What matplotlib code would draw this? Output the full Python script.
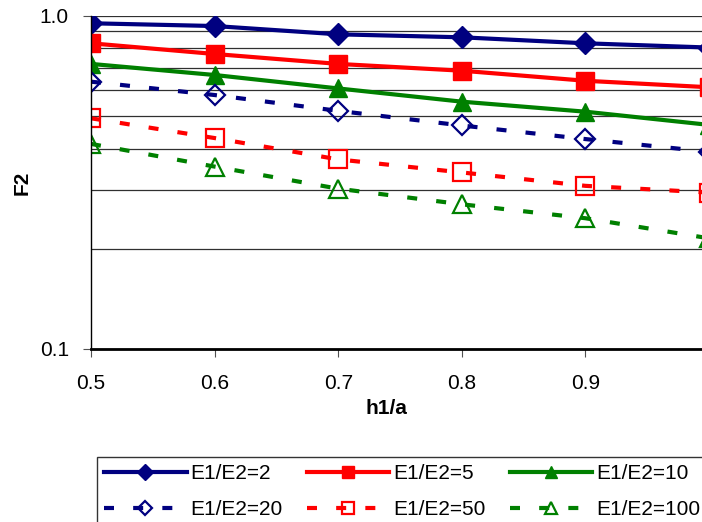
import matplotlib
matplotlib.use("Agg")
import matplotlib.pyplot as plt
import matplotlib.ticker as ticker

plt.rcParams['font.family'] = ['Liberation Sans', 'DejaVu Sans']

h1a = [0.5, 0.6, 0.7, 0.8, 0.9, 1.0]
f2_e2 = [0.951, 0.933, 0.881, 0.863, 0.828, 0.804]
f2_e5 = [0.828, 0.769, 0.718, 0.685, 0.639, 0.611]
f2_e10 = [0.718, 0.665, 0.606, 0.553, 0.516, 0.471]
f2_e20 = [0.635, 0.579, 0.519, 0.469, 0.427, 0.391]
f2_e50 = [0.493, 0.430, 0.371, 0.339, 0.309, 0.295]
f2_e100 = [0.413, 0.353, 0.303, 0.272, 0.247, 0.215]

x_ticks = [0.5, 0.6, 0.7, 0.8, 0.9]
x_ticklabels = ['0.5', '0.6', '0.7', '0.8', '0.9']
y_ticks = [0.1, 1.0]
y_ticklabels = ['0.1', '1.0']
y_grid = [0.2, 0.3, 0.4, 0.5, 0.6, 0.7, 0.8, 0.9]

navy = '#000080'
red = '#ff0000'
green = '#008000'

fig = plt.figure(figsize=(7.02, 5.22), dpi=100)
ax = fig.add_axes([91 / 702, 1 - 349 / 522, 618 / 702, 333 / 522])

# solid series
l2, = ax.plot(h1a, f2_e2, color=navy, lw=3, marker='D', ms=11, label='E1/E2=2')
l5, = ax.plot(h1a, f2_e5, color=red, lw=3, marker='s', ms=13, label='E1/E2=5')
l10, = ax.plot(h1a, f2_e10, color=green, lw=3, marker='^', ms=13, label='E1/E2=10')

# dashed series, open markers
dash = (2.4, 4.6)
l20, = ax.plot(h1a, f2_e20, color=navy, lw=3, dashes=dash, marker='D', ms=10,
               mfc='none', mew=1.6, label='E1/E2=20')
l50, = ax.plot(h1a, f2_e50, color=red, lw=3, dashes=dash, marker='s', ms=13,
               mfc='none', mew=1.6, label='E1/E2=50')
l100, = ax.plot(h1a, f2_e100, color=green, lw=3, dashes=dash, marker='^', ms=13,
                mfc='none', mew=1.6, label='E1/E2=100')

ax.set_yscale('log')
ax.set_ylim(0.1, 1.0)
ax.set_xlim(0.5, 1.0)

ax.yaxis.set_major_locator(ticker.FixedLocator(y_ticks))
ax.yaxis.set_major_formatter(ticker.FixedFormatter(y_ticklabels))
ax.yaxis.set_minor_locator(ticker.FixedLocator(y_grid))
ax.yaxis.set_minor_formatter(ticker.NullFormatter())
ax.xaxis.set_major_locator(ticker.FixedLocator(x_ticks))
ax.xaxis.set_major_formatter(ticker.FixedFormatter(x_ticklabels))

ax.grid(True, which='both', axis='y', color='#303030', lw=0.9)
ax.set_axisbelow(True)
ax.tick_params(axis='y', which='minor', length=0)
ax.tick_params(axis='both', which='major', labelsize=15, length=6, color='#505050')
ax.tick_params(axis='x', pad=12)
ax.tick_params(axis='y', pad=10)

for s in ['top', 'right']:
    ax.spines[s].set_visible(False)
ax.spines['left'].set_linewidth(1)
ax.spines['bottom'].set_linewidth(2)

ax.set_ylabel('F2', fontsize=15, fontweight='bold')
ax.yaxis.set_label_coords((32 - 91) / 618, 0.5)
ax.set_xlabel('h1/a', fontsize=15, fontweight='bold')
ax.xaxis.set_label_coords((386 - 91) / 618, -(399 - 349) / 333)

# Excel-style legend: rows read left to right
handles = [l2, l20, l5, l50, l10, l100]
leg = fig.legend(handles=handles, labels=[h.get_label() for h in handles],
                 loc='upper left', bbox_to_anchor=(97 / 702, 1 - 457 / 522),
                 borderaxespad=0, ncol=3, fontsize=15, frameon=True,
                 fancybox=False, edgecolor='black', handlelength=3.95,
                 handletextpad=0.2, columnspacing=1.15, borderpad=0.35,
                 labelspacing=0.8, numpoints=1, markerscale=0.7)
leg.get_frame().set_linewidth(1)

fig.savefig('out.png', dpi=100)
